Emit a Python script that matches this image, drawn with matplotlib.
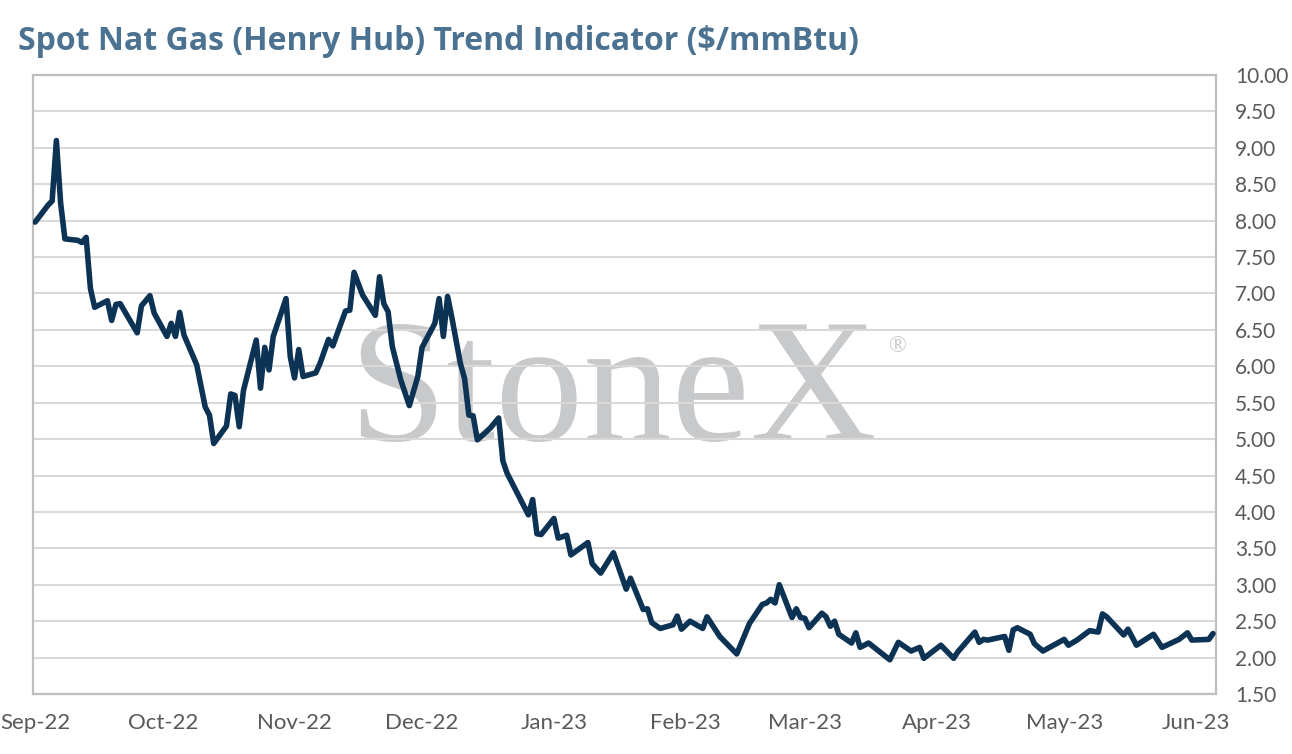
import matplotlib
matplotlib.use("Agg")
import matplotlib.pyplot as plt
import matplotlib.dates as mdates
import matplotlib.ticker as mticker
import pandas as pd

# ---------------- data ----------------
start_date = "2022-09-01"
day_offsets = [0, 3, 4, 5, 6, 7, 10, 11, 12, 13, 14, 17, 18, 19, 20, 24, 25, 27, 28,
               31, 32, 33, 34, 35, 38, 40, 41, 42, 45, 46, 47, 48, 49, 52, 53, 54, 55,
               56, 59, 60, 61, 62, 63, 66, 67, 69, 70, 73, 74, 75, 77, 80, 81, 82, 83,
               84, 86, 88, 90, 91, 94, 95, 96, 97, 98, 100, 101, 102, 103, 104, 107,
               109, 110, 111, 116, 117, 118, 119, 122, 123, 125, 126, 130, 131, 133,
               136, 139, 140, 143, 144, 145, 147, 150, 151, 152, 154, 157, 158, 161,
               165, 168, 171, 172, 173, 174, 175, 178, 179, 180, 181, 182, 185, 186,
               187, 188, 189, 192, 193, 194, 196, 201, 203, 206, 208, 209, 213, 216,
               217, 221, 222, 223, 224, 228, 229, 230, 231, 234, 235, 237, 242, 243,
               245, 248, 250, 251, 252, 256, 257, 259, 263, 265, 269, 271, 272, 276, 277]
prices = [7.98, 8.21, 8.27, 9.10, 8.24, 7.75, 7.73, 7.70, 7.77, 7.07, 6.81, 6.90, 6.63,
          6.85, 6.86, 6.46, 6.83, 6.97, 6.73, 6.41, 6.59, 6.41, 6.74, 6.43, 6.02, 5.44,
          5.33, 4.94, 5.18, 5.62, 5.60, 5.17, 5.67, 6.36, 5.70, 6.26, 5.95, 6.41, 6.93,
          6.13, 5.84, 6.23, 5.86, 5.91, 6.04, 6.37, 6.28, 6.76, 6.77, 7.29, 6.98, 6.70,
          7.23, 6.86, 6.75, 6.27, 5.81, 5.46, 5.86, 6.26, 6.59, 6.93, 6.41, 6.96, 6.67,
          6.04, 5.83, 5.33, 5.32, 4.99, 5.15, 5.29, 4.70, 4.53, 3.96, 4.17, 3.70, 3.69,
          3.91, 3.64, 3.68, 3.41, 3.58, 3.29, 3.16, 3.44, 2.94, 3.09, 2.66, 2.67, 2.48,
          2.40, 2.45, 2.57, 2.39, 2.50, 2.40, 2.56, 2.29, 2.05, 2.47, 2.73, 2.75, 2.80,
          2.75, 3.00, 2.55, 2.67, 2.55, 2.54, 2.41, 2.61, 2.56, 2.43, 2.50, 2.32, 2.20,
          2.34, 2.14, 2.20, 1.97, 2.21, 2.09, 2.14, 1.99, 2.17, 1.99, 2.08, 2.35, 2.21,
          2.25, 2.24, 2.29, 2.10, 2.38, 2.41, 2.32, 2.19, 2.09, 2.25, 2.17, 2.24, 2.37,
          2.35, 2.60, 2.56, 2.31, 2.39, 2.17, 2.32, 2.14, 2.25, 2.34, 2.24, 2.25, 2.33]

title_text = "Spot Nat Gas (Henry Hub) Trend Indicator ($/mmBtu)"
watermark_text = "StoneX"
y_min, y_max, y_step = 1.5, 10.0, 0.5
x_end_date = "2023-06-05"

# ---------------- style ----------------
LINE_COLOR = "#0c3254"
TITLE_COLOR = "#4c7291"
GRID_COLOR = "#d9d9d9"
SPINE_COLOR = "#bfbfbf"
TICK_COLOR = "#595959"
WM_COLOR = "#c8c9cb"
FONT = ["Lato", "DejaVu Sans"]
SERIF = ["Liberation Serif", "DejaVu Serif"]

plt.rcParams["font.family"] = FONT

dates = pd.Timestamp(start_date) + pd.to_timedelta(day_offsets, unit="D")

fig = plt.figure(figsize=(12.92, 7.54), dpi=100)
W, H = 1292, 754
ax = fig.add_axes([33 / W, 1 - 694 / H, (1216 - 33) / W, (694 - 75) / H])

# watermark (behind the grid and the line)
ax.text(613 / W, 1 - 440 / H, watermark_text, transform=fig.transFigure,
        family=SERIF, fontsize=127, color=WM_COLOR, ha="center", va="baseline",
        zorder=0.1, clip_on=False)
ax.text(898 / W, 1 - 347 / H, "\u00ae", transform=fig.transFigure,
        family=SERIF, fontsize=17, color=WM_COLOR, ha="center", va="center",
        zorder=0.1, clip_on=False)

ax.plot(dates, prices, color=LINE_COLOR, lw=4.0, solid_joinstyle="round",
        solid_capstyle="round", zorder=3)

ax.set_ylim(y_min, y_max)
ax.yaxis.set_major_locator(mticker.MultipleLocator(y_step))
ax.yaxis.set_major_formatter(mticker.FormatStrFormatter("%.2f"))
ax.yaxis.tick_right()
ax.grid(axis="y", color=GRID_COLOR, lw=1.5)
ax.set_axisbelow(True)

x0 = mdates.date2num(pd.Timestamp(start_date)) - 0.5
x1 = mdates.date2num(pd.Timestamp(x_end_date)) + 0.7
ax.set_xlim(x0, x1)
ax.xaxis.set_major_locator(mdates.MonthLocator())
ax.xaxis.set_major_formatter(mdates.DateFormatter("%b-%y"))

ax.tick_params(axis="both", length=0, labelcolor=TICK_COLOR)
ax.tick_params(axis="y", pad=13.7, labelsize=15)
ax.tick_params(axis="x", pad=14, labelsize=16)
for lab in ax.get_yticklabels():
    lab.set_horizontalalignment("left")

for s in ax.spines.values():
    s.set_color(SPINE_COLOR)
    s.set_linewidth(1.6)
    s.set_zorder(2)

fig.text(18 / W, 1 - 50 / H, title_text, fontsize=23, fontweight="bold",
         family=["Open Sans", "DejaVu Sans"],
         color=TITLE_COLOR, ha="left", va="baseline")

fig.savefig("out.png", dpi=100)
